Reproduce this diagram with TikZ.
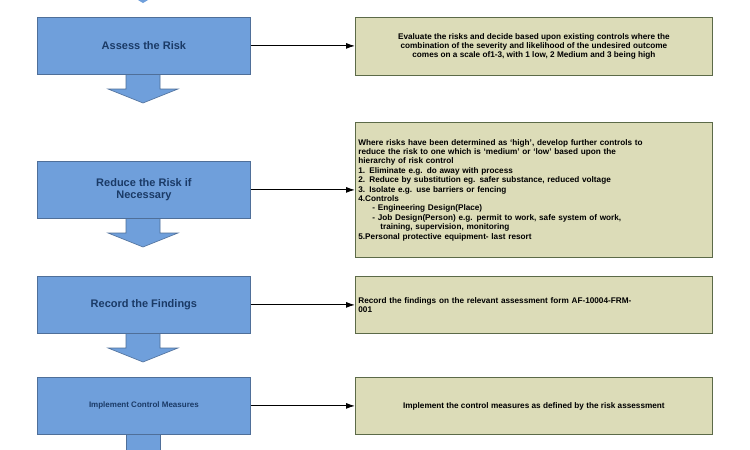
\documentclass[tikz,border=0pt]{standalone}
\usepackage{fontspec}
\setmainfont{Liberation Sans}
\usetikzlibrary{arrows.meta}
\definecolor{bfill}{HTML}{6F9FDB}
\definecolor{bdraw}{HTML}{4F6F99}
\definecolor{btext}{HTML}{1A3A66}
\definecolor{gfill}{HTML}{DCDCB8}
\definecolor{gdraw}{HTML}{5C6A48}
\begin{document}
\begin{tikzpicture}[x=1pt,y=-1pt,
  stage/.style={draw=bdraw,fill=bfill,line width=0.8pt,minimum width=213pt,minimum height=57pt,anchor=north west,inner sep=0,text=btext,align=center},
  note/.style={draw=gdraw,fill=gfill,line width=0.8pt,minimum width=357pt,anchor=north west,inner sep=0,font=\bfseries\fontsize{8.2}{9.4}\selectfont},
  blk/.style={fill=bfill,draw=bdraw,line width=0.6pt},
  conn/.style={-{Latex[length=9pt,width=6pt]},line width=1pt}]
\useasboundingbox (0,0) rectangle (750,450);
\fill[white] (0,0) rectangle (750,450);
% block arrows
\foreach \y/\t in {74/103,218/247,333/362}{
  \draw[blk] (126,\y) -- (126,\y+15) -- (108,\y+15) -- (143,\t) -- (178,\y+15) -- (160,\y+15) -- (160,\y);
}
\fill[bfill] (126,434) rectangle (160,451);
\draw[blk] (126,434) -- (126,451) (160,451) -- (160,434);
\fill[bfill] (138,0) -- (148,0) -- (143,3) -- cycle;
\node[stage,font=\bfseries\fontsize{11}{12}\selectfont] (s1) at (37,17) {Assess the Risk};
\node[stage,font=\bfseries\fontsize{11}{12}\selectfont] (s2) at (37,161) {Reduce the Risk if\\Necessary};
\node[stage,font=\bfseries\fontsize{11}{12}\selectfont] (s3) at (37,276) {Record the Findings};
\node[stage,font=\bfseries\fontsize{8}{9}\selectfont] (s4) at (37,377) {Implement Control Measures};
\node[note,minimum height=58pt,align=center] (n1) at (355,17) {Evaluate the risks and decide based upon existing controls where the\\combination of the severity and likelihood of the undesired outcome\\comes on a scale of1-3, with 1 low, 2 Medium and 3 being high};
\node[note,minimum height=135pt,align=left,text width=351pt,inner xsep=3pt] (n2) at (355,122) {Where risks have been determined as `high', develop further controls to\\reduce the risk to one which is `medium' or `low' based upon the\\hierarchy of risk control\\1. Eliminate e.g. do away with process\\2. Reduce by substitution eg. safer substance, reduced voltage\\3. Isolate e.g. use barriers or fencing\\4.Controls\\\hspace*{14pt}- Engineering Design(Place)\\\hspace*{14pt}- Job Design(Person) e.g. permit to work, safe system of work,\\\hspace*{22pt}training, supervision, monitoring\\5.Personal protective equipment- last resort};
\node[note,minimum height=57pt,align=left,text width=351pt,inner xsep=3pt] (n3) at (355,276) {Record the findings on the relevant assessment form AF-10004-FRM-\\001};
\node[note,minimum height=57pt,align=center] (n4) at (355,377) {Implement the control measures as defined by the risk assessment};
\draw[conn] (s1.east) -- (n1.west|-s1.east);
\draw[conn] (s2.east) -- (n2.west|-s2.east);
\draw[conn] (s3.east) -- (n3.west|-s3.east);
\draw[conn] (s4.east) -- (n4.west|-s4.east);
\end{tikzpicture}
\end{document}
